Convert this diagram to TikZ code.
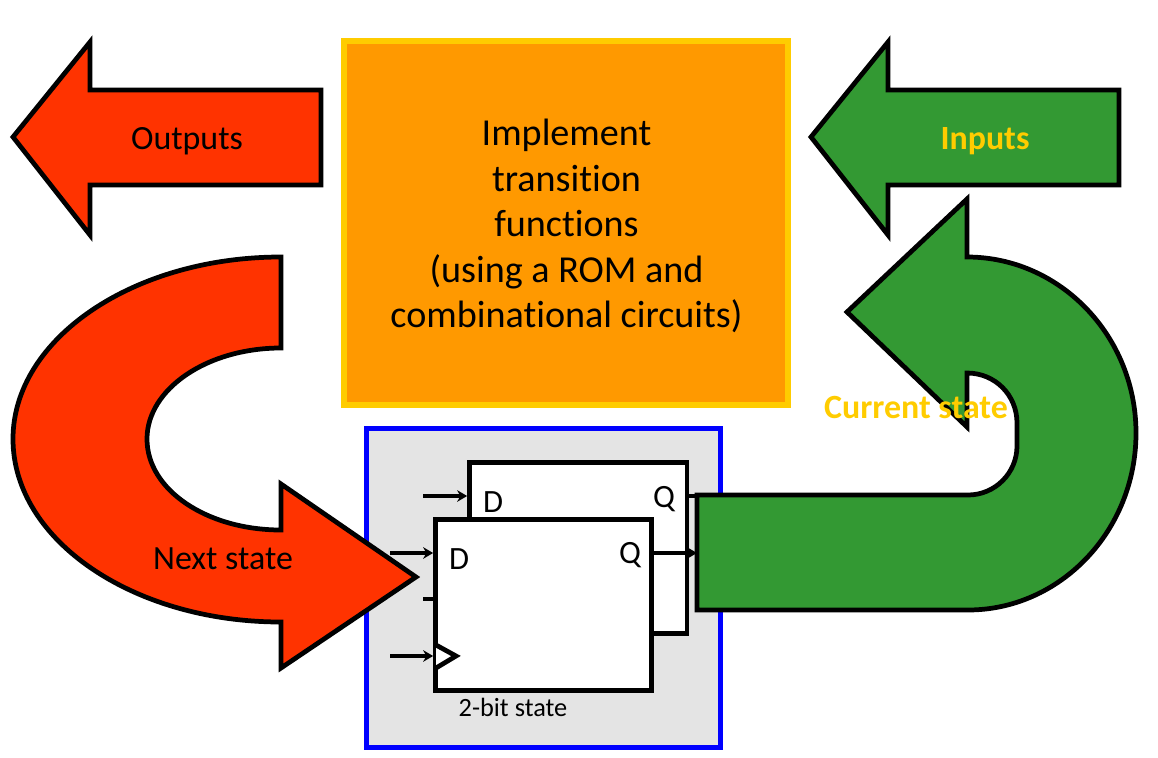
\documentclass[tikz,border=0pt]{standalone}
\usepackage{fontspec}
\usetikzlibrary{arrows.meta}
\setmainfont[Ligatures=CommonOff]{Carlito}
\definecolor{romfill}{HTML}{FF9900}
\definecolor{gold}{HTML}{FFCC00}
\definecolor{hotred}{HTML}{FF3300}
\definecolor{leaf}{HTML}{339933}
\definecolor{panel}{HTML}{E4E4E4}
\tikzset{
  flow/.style={draw=black,line width=2.7pt,miter limit=10},
  ffbox/.style={draw=black,fill=white,line width=2.7pt,minimum width=#1,minimum height=3.42cm,inner sep=0pt},
  wire/.style={-{Stealth[length=5.7pt,width=6.6pt]},line width=2.2pt},
  pin/.style={inner sep=0pt,font=\fontsize{18.5}{20}\selectfont},
  lbl/.style={inner sep=0pt,font=\fontsize{19.3}{22}\selectfont},
  lblbold/.style={inner sep=0pt,text=gold,font=\fontsize{19.3}{22}\selectfont\bfseries}
}
\begin{document}
\begin{tikzpicture}[x=0.02cm,y=-0.02cm]
  \useasboundingbox (0,0) rectangle (1158,757);
  \node[draw=gold,fill=romfill,line width=3.4pt,minimum width=8.88cm,minimum height=7.28cm]  at (566,223) (rom) {};
  \node[align=center,inner sep=0pt,font=\fontsize{21.7}{25.9}\selectfont]  at (566.5,226) (romtext)
    {Implement\\transition\\functions\\(using a ROM and\\combinational circuits)};
  \node[draw=blue,fill=panel,line width=2.85pt,minimum width=7.08cm,minimum height=6.39cm]  at (543.5,588) (state) {};
  \node[ffbox=4.35cm]  at (578.25,548) (ffback) {};
  \node[ffbox=4.32cm]  at (543.5,605) (fffront) {};
  % input pins
  \coordinate (dbackin) at (423,496);
  \coordinate (dfrontin) at (390,553);
  \coordinate (stubin) at (423,599);
  \coordinate (clkin) at (390,656);
  \draw[wire] (dbackin) -- (dbackin -| ffback.west);
  \draw[wire] (dfrontin) -- (dfrontin -| fffront.west);
  \draw[line width=2.2pt] (stubin) -- (stubin -| fffront.west);
  \draw[wire] (clkin) -- (clkin -| fffront.west);
  \draw[line width=2.7pt,fill=white] (436,645) -- (456,656) -- (436,668);
  \coordinate (qbackout) at (697,496);
  \coordinate (qfrontout) at (697,553);
  \draw[line width=2.2pt] (qbackout -| ffback.east) -- (qbackout);
  % arrows
  \draw[flow,fill=hotred] (13,137) -- (90,42) -- (90,90) -- (321,90) -- (321,185) -- (90,185) -- (90,235) -- cycle;
  \draw[flow,fill=leaf] (811,137) -- (888,42) -- (888,90) -- (1119,90) -- (1119,185) -- (888,185) -- (888,235) -- cycle;
  \draw[flow,fill=leaf] (697,495) -- (968,495)
    .. controls (995,495) and (1017,473) .. (1017,446) -- (1017,423)
    .. controls (1017,395) and (995,373) .. (967,373)
    -- (967,427) -- (847,312) -- (967,199) -- (967,257)
    .. controls (1060,257) and (1136,336) .. (1136,433)
    .. controls (1136,531) and (1060,610) .. (968,610)
    -- (697,610) -- cycle;
  \draw[wire] (qfrontout -| fffront.east) -- (qfrontout);
  \draw[flow,fill=hotred] (281,257) -- (281,348)
    .. controls (207,348) and (147,389) .. (147,439)
    .. controls (147,490) and (207,530) .. (281,530)
    -- (281,484) -- (416,577) -- (281,668) -- (281,622)
    .. controls (133,622) and (13,540) .. (13,439)
    .. controls (13,339) and (133,257) .. (281,257) -- cycle;
  % labels
  \node[lbl]  at (187,141) (outputs) {Outputs};
  \node[lblbold]  at (985,141) (inputs) {Inputs};
  \node[lblbold]  at (916,407) (current) {Current state};
  \node[lbl]  at (223,559) (next) {Next state};
  \node[inner sep=0pt,font=\fontsize{15}{17}\selectfont]  at (513,707) (bits) {2-bit state};
  \node[pin]  at (493,502) (dback) {D};
  \node[pin]  at (459,559) (dfront) {D};
  \node[pin]  at (664,499) (qback) {Q};
  \node[pin]  at (630,555) (qfront) {Q};
\end{tikzpicture}
\end{document}
